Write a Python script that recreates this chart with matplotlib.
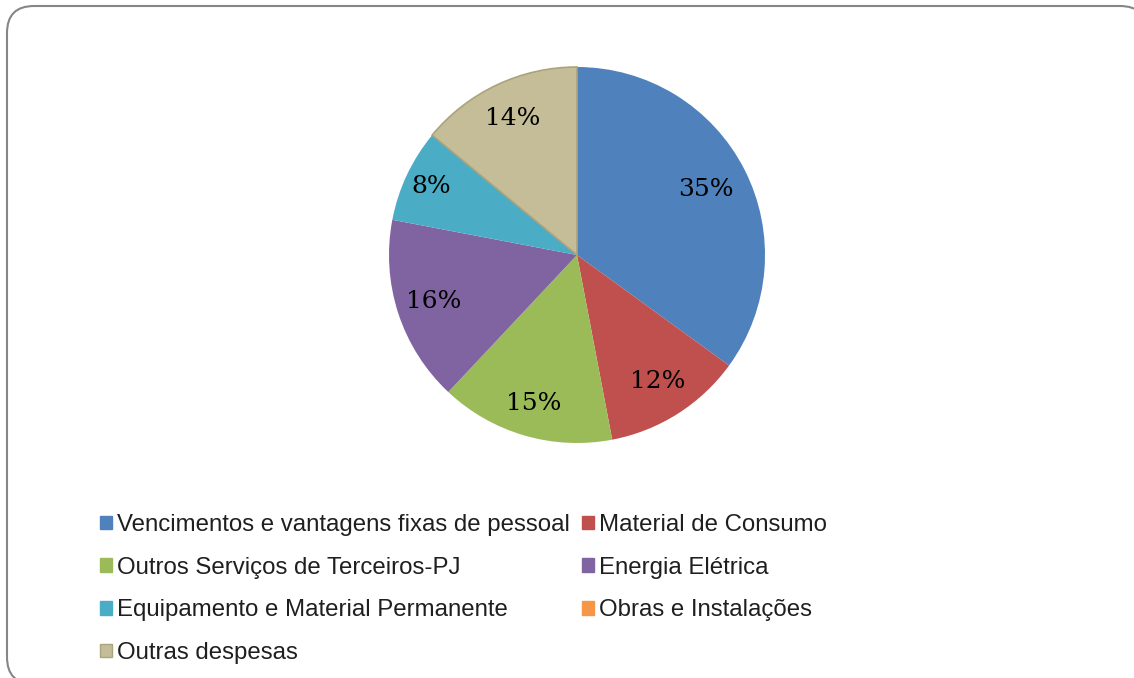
import matplotlib.pyplot as plt
import numpy as np
from matplotlib.patches import FancyBboxPatch, Patch

categorias = ['Vencimentos e vantagens fixas de pessoal', 'Material de Consumo',
              'Outros Serviços de Terceiros-PJ', 'Energia Elétrica',
              'Equipamento e Material Permanente', 'Obras e Instalações',
              'Outras despesas']
valores = [35, 12, 15, 16, 8, 0, 14]
cores = ['#4F81BD', '#C0504D', '#9BBB59', '#8064A2', '#4BACC6', '#F79646', '#C4BD97']
bordas = ['none', 'none', 'none', 'none', 'none', 'none', '#ABA47A']

fig = plt.figure(figsize=(11.34, 6.78), dpi=100)

# frame with rounded corners, in pixel units
bg = fig.add_axes([0, 0, 1, 1], zorder=0)
bg.set_xlim(0, 1134)
bg.set_ylim(678, 0)
bg.axis('off')
bg.add_patch(FancyBboxPatch((7, 6), 1140, 678, boxstyle='round,pad=0,rounding_size=27',
                            facecolor='white', edgecolor='#868686', linewidth=1.5))

ax = fig.add_axes([389/1134, 1 - 443/678, 376/1134, 376/678], zorder=1)
wedges, _ = ax.pie(valores, colors=cores, startangle=90, counterclock=False, radius=1,
                   wedgeprops=dict(linewidth=0))
for w, ec in zip(wedges, bordas):
    if ec != 'none':
        w.set_edgecolor(ec)
        w.set_linewidth(1.2)

# percentage labels
total = sum(valores)
ang = 90.0
dist = [0.77, 0.8, 0.82, 0.8, 0.86, 0.8, 0.8]
for v, d in zip(valores, dist):
    if v > 0:
        mid = np.deg2rad(ang - v / total * 180)
        ax.text(d * np.cos(mid), d * np.sin(mid), f'{v}%', ha='center', va='center',
                fontsize=18, family='DejaVu Serif', color='black')
    ang -= v / total * 360
ax.set_xlim(-1, 1)
ax.set_ylim(-1, 1)
ax.set_aspect('equal')

# legend, row-major order like the original
ordem = [0, 2, 4, 6, 1, 3, 5]
handles = [Patch(facecolor=cores[i], edgecolor=bordas[i] if bordas[i] != 'none' else cores[i],
                 linewidth=1) for i in ordem]
labels = [categorias[i] for i in ordem]
fig.legend(handles, labels, ncol=2, loc='upper left', bbox_to_anchor=(100/1134, 1 - 514/678),
           frameon=False, prop={'family': 'Liberation Sans', 'size': 17.3},
           handlelength=0.5, handleheight=0.5, handletextpad=0.22,
           columnspacing=0.5, labelspacing=0.86, borderpad=0, borderaxespad=0)
for t in fig.legends[0].get_texts():
    t.set_color('#1F1F1F')

fig.savefig('out.png', dpi=100)
